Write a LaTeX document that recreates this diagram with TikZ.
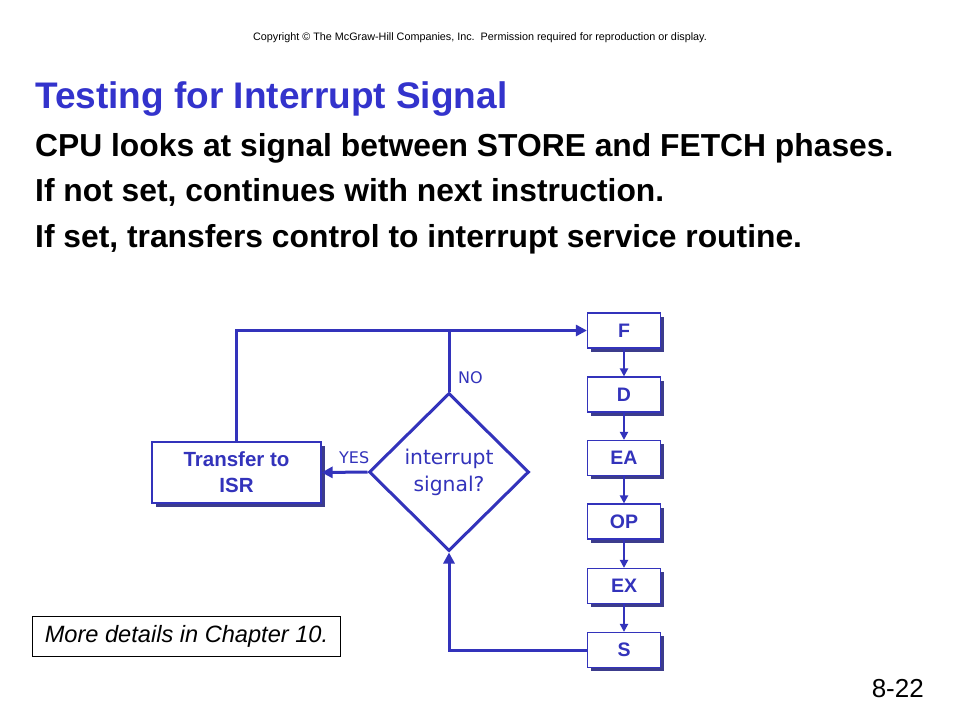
\documentclass[tikz,border=0pt]{standalone}
\usepackage{fontspec}
\setmainfont{Liberation Sans}
\newfontfamily\dvs{DejaVu Sans}
\usetikzlibrary{shapes.geometric,shadows,arrows.meta}
\definecolor{mblue}{RGB}{51,51,187}
\definecolor{tblue}{RGB}{51,51,204}
\definecolor{mshadow}{RGB}{60,60,140}
\begin{document}
\begin{tikzpicture}[x=1pt,y=-1pt,
  stagebox/.style={draw=mblue,line width=1.2pt,fill=white,minimum width=73pt,minimum height=35pt,inner sep=0pt,
    font=\fontsize{19.5}{22}\selectfont\bfseries,text=mblue,
    drop shadow={shadow xshift=3.5pt,shadow yshift=-3.5pt,fill=mshadow,opacity=1}},
  flow/.style={draw=mblue,line width=3pt},
  chain/.style={draw=mblue,line width=2pt,-{Triangle[length=8pt,width=8pt]}},
  arr/.style={-{Triangle[length=11pt,width=11pt]}},
  lbl/.style={font=\dvs\fontsize{16}{18}\selectfont,text=mblue,inner sep=0pt}]
\useasboundingbox (0,0) rectangle (960,720);
\fill[white] (0,0) rectangle (960,720);
% texts
\node[anchor=base,inner sep=0pt,font=\fontsize{10.8}{12}\selectfont] (copy) at (480,40) {Copyright \textcopyright{} The McGraw-Hill Companies, Inc.\ \ Permission required for reproduction or display.};
\node[anchor=base west,inner sep=0pt,font=\fontsize{37}{42}\selectfont\bfseries,text=tblue] (title) at (35,108) {Testing for Interrupt Signal};
\node[anchor=base west,inner sep=0pt,font=\fontsize{31.8}{36}\selectfont\bfseries] (l1) at (35,156) {CPU looks at signal between STORE and FETCH phases.};
\node[anchor=base west,inner sep=0pt,font=\fontsize{31.8}{36}\selectfont\bfseries] (l2) at (35,201.5) {If not set, continues with next instruction.};
\node[anchor=base west,inner sep=0pt,font=\fontsize{31.8}{36}\selectfont\bfseries] (l3) at (35,247) {If set, transfers control to interrupt service routine.};
\node[anchor=base east,inner sep=0pt,font=\fontsize{26}{30}\selectfont] (pg) at (924,697) {8-22};
% stage boxes
\node[stagebox] (F) at (624,330.5) {F};
\node[stagebox] (D) at (624,394.5) {D};
\node[stagebox] (EA) at (624,458) {EA};
\node[stagebox] (OP) at (624,521.5) {OP};
\node[stagebox] (EX) at (624,586) {EX};
\node[stagebox] (S) at (624,650) {S};
% transfer box
\node[stagebox,minimum width=169pt,minimum height=61pt,align=center,font=\fontsize{20.5}{26}\selectfont\bfseries] (T) at (236.5,472.5) {Transfer to\\ISR};
% diamond
\node[diamond,draw=mblue,line width=3pt,fill=white,minimum width=160pt,minimum height=158pt,inner sep=0pt,align=center,
  font=\dvs\fontsize{20.3}{27}\selectfont,text=mblue] (dia) at (449,472) {interrupt\\signal?};
% connectors
\draw[flow,arr] (T.north) |- (F.west);
\draw[flow] (dia.north) -- (dia.north |- F.west);
\draw[flow,arr] (dia.west) -- (T.east);
\draw[flow,arr] (S.west) -| (dia.south);
\draw[chain] (F) -- (D);
\draw[chain] (D) -- (EA);
\draw[chain] (EA) -- (OP);
\draw[chain] (OP) -- (EX);
\draw[chain] (EX) -- (S);
% labels
\node[lbl,anchor=base west] (yes) at (339,463) {YES};
\node[lbl,anchor=base west] (no) at (458,383) {NO};
% note
\node[draw=black,line width=1pt,minimum width=308pt,minimum height=40pt,inner sep=0pt,
  font=\fontsize{23.6}{27}\selectfont\itshape] (note) at (186.5,636.3) {More details in Chapter 10.};
\end{tikzpicture}
\end{document}
